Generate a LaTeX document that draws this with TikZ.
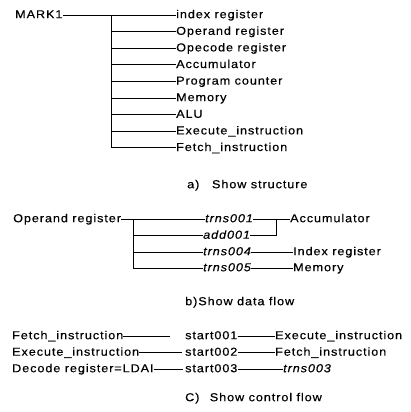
\documentclass[tikz,border=0pt]{standalone}
\usepackage{fontspec}
\setmainfont{Liberation Sans}[FakeStretch=1.1, LetterSpace=8, FakeBold=0.4]
\begin{document}
\begin{tikzpicture}[x=1pt, y=-1pt,
  lbl/.style={inner sep=0pt, anchor=west, text height=8.2pt, text depth=1.8pt,
              font=\fontsize{11.5}{13}\selectfont},
  ilbl/.style={lbl, font=\fontsize{11.5}{13}\selectfont\itshape},
  link/.style={line width=0.8pt, black}]
\useasboundingbox (0,0) rectangle (411,412);

% ---- a) structure tree of MARK1
\node[lbl] (mark) at (15,15) {MARK1};
\coordinate (ta) at (111,15);
\node[lbl] (a1) at (176,15.0)  {index register};
\node[lbl] (a2) at (176,31.6)  {Operand register};
\node[lbl] (a3) at (176,48.2)  {Opecode register};
\node[lbl] (a4) at (176,64.8)  {Accumulator};
\node[lbl] (a5) at (176,81.4)  {Program counter};
\node[lbl] (a6) at (176,98.0)  {Memory};
\node[lbl] (a7) at (176,114.6) {ALU};
\node[lbl] (a8) at (176,131.2) {Execute\_instruction};
\node[lbl] (a9) at (176,147.8) {Fetch\_instruction};
\draw[link] (mark.east) -- (a1.west);
\draw[link] (ta) |- (a9.west);
\foreach \i in {2,...,8} {\draw[link] (ta |- a\i.west) -- (a\i.west);}
\node[lbl] (capa) at (187,185) {a)\hspace{1.1em}Show structure};

% ---- b) data flow from the operand register
\node[lbl] (opr) at (13,219) {Operand register};
\coordinate (tb) at (133,219);
\node[ilbl] (t1) at (205,219)   {trns001};
\node[ilbl] (ad) at (203,235.5) {add001};
\node[ilbl] (t4) at (203,252)   {trns004};
\node[ilbl] (t5) at (203,268)   {trns005};
\coordinate (jb) at (276,219);
\node[lbl] (acc) at (290,219) {Accumulator};
\node[lbl] (ix)  at (293,252) {Index register};
\node[lbl] (mem) at (293,268) {Memory};
\draw[link] (opr.east) -- (t1.west);
\draw[link] (tb) |- (t5.west);
\draw[link] (tb |- ad.west) -- (ad.west);
\draw[link] (tb |- t4.west) -- (t4.west);
\draw[link] (t1.east) -- (acc.west);
\draw[link] (jb) |- (ad.east);
\draw[link] (t4.east) -- (ix.west);
\draw[link] (t5.east) -- (mem.west);
\node[lbl] (capb) at (185,302) {b)Show data flow};

% ---- c) control flow
\node[lbl] (f1) at (12,336)   {Fetch\_instruction};
\node[lbl] (f2) at (12,352.5) {Execute\_instruction};
\node[lbl] (f3) at (12,369)   {Decode register=LDAI};
\coordinate (e1) at (170,336);
\coordinate (e2) at (182,352.5);
\coordinate (e3) at (183,369);
\node[lbl] (s1) at (185,336)   {start001};
\node[lbl] (s2) at (185,352.5) {start002};
\node[lbl] (s3) at (185,369)   {start003};
\node[lbl]  (g1) at (275,336)   {Execute\_instruction};
\node[lbl]  (g2) at (275,352.5) {Fetch\_instruction};
\node[ilbl] (g3) at (283,369)   {trns003};
\draw[link] (f1.east) -- (e1);
\draw[link] (f2.east) -- (e2);
\draw[link] (f3.east) -- (e3);
\draw[link] (s1.east) -- (g1.west);
\draw[link] (s2.east) -- (g2.west);
\draw[link] (s3.east) -- (g3.west);
\node[lbl] (capc) at (185,398) {C)\hspace{0.9em}Show control flow};
\end{tikzpicture}
\end{document}
